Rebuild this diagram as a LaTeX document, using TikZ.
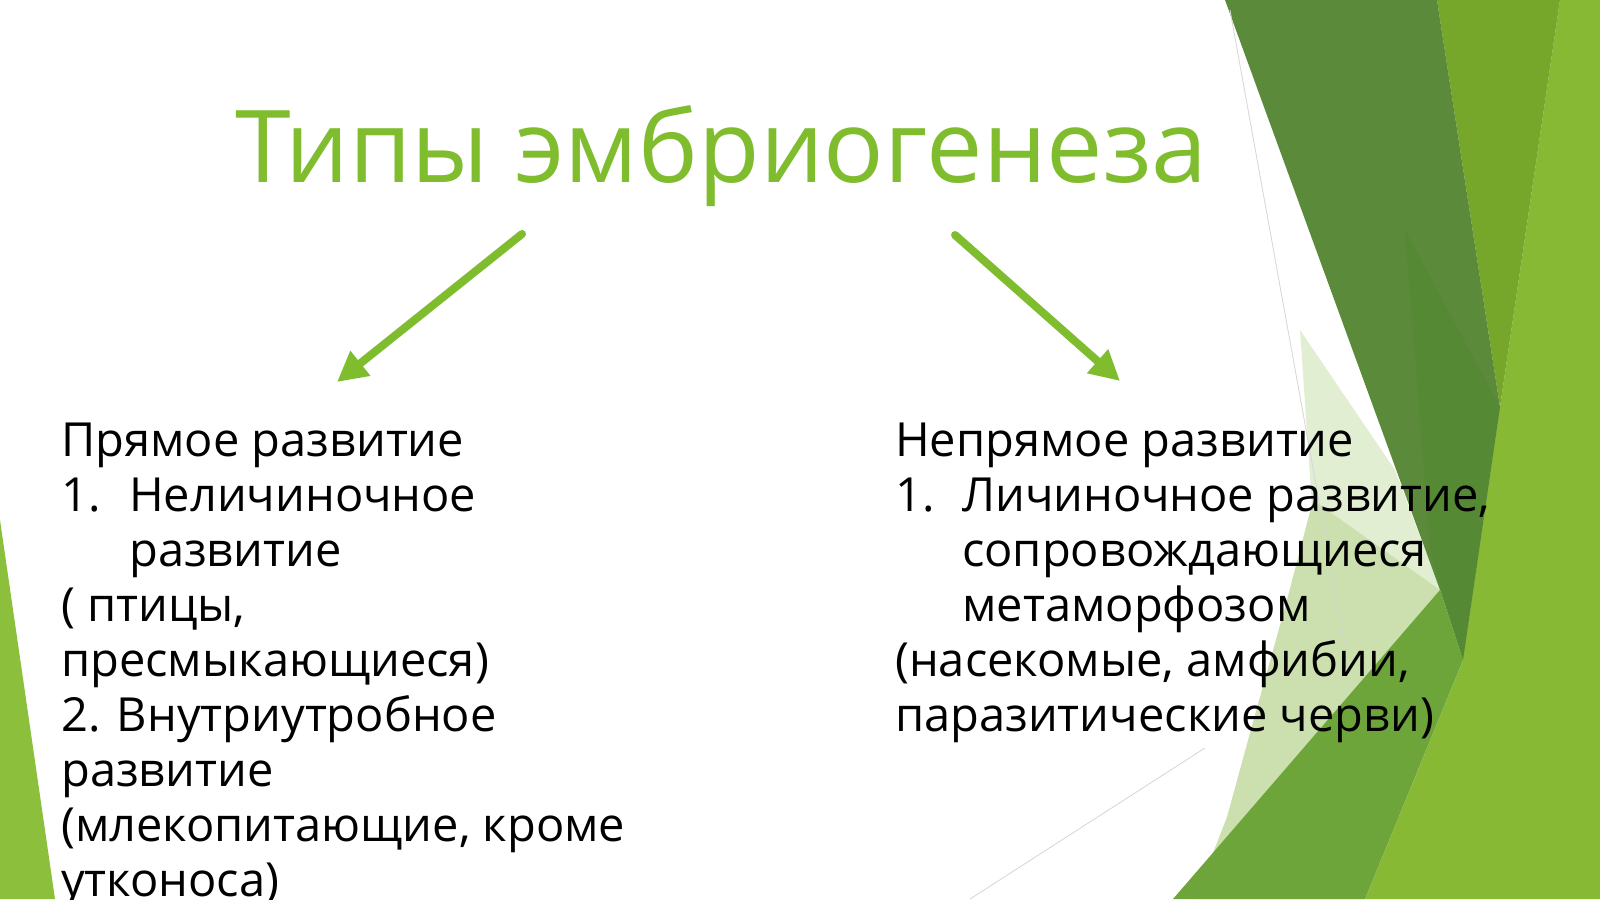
\documentclass[tikz,border=0pt]{standalone}
\usepackage{fontspec}
\setmainfont{Open Sans}
\usetikzlibrary{arrows.meta}
\definecolor{titlegreen}{HTML}{7FBC2E}
\definecolor{darkband}{HTML}{5B8B3A}
\definecolor{darkerband}{HTML}{568934}
\definecolor{medband}{HTML}{76A72A}
\definecolor{farband}{HTML}{88B934}
\definecolor{paleband}{HTML}{CBE0AE}
\definecolor{midband}{HTML}{6DA53A}
\definecolor{leftband}{HTML}{8CBF3C}
\newcommand\txtbody{\fontsize{47}{55}\selectfont}
\newcommand\txttitle{\fontsize{100.5}{120}\selectfont}
\begin{document}
\begin{tikzpicture}[x=1pt,y=-1pt,
  line/.style={anchor=base west, inner sep=0pt, font=\txtbody, text=black},
  arr/.style={draw=titlegreen, line width=8pt, line cap=round,
    -{Triangle[length=30pt,width=30pt]}},
  thin/.style={draw=black!16, line width=0.8pt}]
\useasboundingbox (0,0) rectangle (1600,899);
\fill[white] (0,0) rectangle (1600,899);
% background facets
\fill[leftband] (0,520) -- (0,899) -- (55,899) -- cycle;
\fill[farband] (1560,0) -- (1600,0) -- (1600,899) -- (1365,899) -- (1463,660) -- (1500,407) -- cycle;
\fill[medband] (1437,0) -- (1560,0) -- (1500,407) -- cycle;
\fill[paleband!55] (1300,330) -- (1313,520) -- (1440,590) -- (1395,470) -- cycle;
\fill[paleband] (1313,500) -- (1287,600) -- (1250,733) -- (1227,817) -- (1195,899) -- (1365,899) -- (1463,660) -- (1440,590) -- cycle;
\fill[darkband] (1225,0) -- (1437,0) -- (1500,407) -- (1463,660) -- (1440,590) -- cycle;
\fill[darkerband] (1405,230) -- (1500,407) -- (1463,660) -- (1430,550) -- cycle;
\fill[midband] (1173,899) -- (1440,590) -- (1463,660) -- (1365,899) -- cycle;
\draw[thin] (1230,10) -- (1345,645);
\draw[thin] (970,899) -- (1205,748);
% title
\node[anchor=base west, inner sep=0pt, font=\txttitle, text=titlegreen] (title) at (235,182) {Типы эмбриогенеза};
% arrows
\coordinate (a1s) at (522,234);
\coordinate (a1e) at (337,382);
\coordinate (a2s) at (955,235);
\coordinate (a2e) at (1120,381);
\draw[arr] (a1s) -- (a1e);
\draw[arr] (a2s) -- (a2e);
% left column
\node[line] (l1) at (61,456) {Прямое развитие};
\node[line] (l2n) at (61,511) {1.};
\node[line] (l2) at (129,511) {Неличиночное};
\node[line] (l3) at (129,566) {развитие};
\node[line] (l4) at (61,621) {( птицы,};
\node[line] (l5) at (61,676) {пресмыкающиеся)};
\node[line] (l6) at (61,731) {2. Внутриутробное};
\node[line] (l7) at (61,786) {развитие};
\node[line] (l8) at (61,841) {(млекопитающие, кроме};
\node[line] (l9) at (61,896) {утконоса)};
% right column
\node[line] (r1) at (895,456) {Непрямое развитие};
\node[line] (r2n) at (895,511) {1.};
\node[line] (r2) at (962,511) {Личиночное развитие,};
\node[line] (r3) at (962,566) {сопровождающиеся};
\node[line] (r4) at (962,621) {метаморфозом};
\node[line] (r5) at (895,676) {(насекомые, амфибии,};
\node[line] (r6) at (895,731) {паразитические черви)};
\end{tikzpicture}
\end{document}
